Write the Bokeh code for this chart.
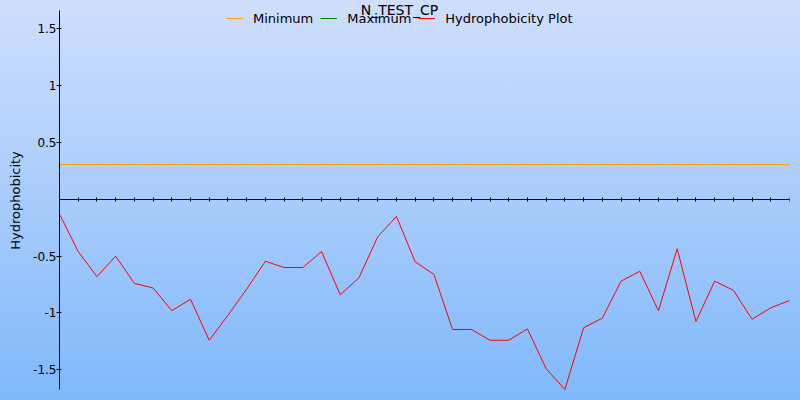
from bokeh.plotting import figure
from bokeh.models import (Range1d, FixedTicker, SingleIntervalTicker, Label, Legend,
                          LegendItem, GlobalInlineStyleSheet, CustomJSTickFormatter)
from bokeh.embed import file_html
from bokeh.resources import INLINE

TITLE = "N_TEST_CP"
Y_LABEL = "Hydrophobicity"
POSITIONS = [0, 1, 2, 3, 4, 5, 6, 7, 8, 9, 10, 11, 12, 13, 14, 15, 16, 17, 18, 19,
             20, 21, 22, 23, 24, 25, 26, 27, 28, 29, 30, 31, 32, 33, 34, 35, 36, 37, 38, 39]
HYDROPHOBICITY = [-0.13, -0.46, -0.68, -0.50, -0.74, -0.78, -0.98, -0.88, -1.24, -1.02,
                  -0.79, -0.545, -0.60, -0.60, -0.46, -0.84, -0.69, -0.33, -0.15, -0.55,
                  -0.66, -1.145, -1.145, -1.24, -1.24, -1.14, -1.49, -1.673, -1.13, -1.046,
                  -0.72, -0.633, -0.98, -0.435, -1.075, -0.72, -0.80, -1.055, -0.955, -0.89]
MINIMUM = 0.306
MAXIMUM = 0.306
Y_MIN, Y_MAX = -1.673, 1.661          # extent of the y axis
Y_TICKS = [-1.5, -1.0, -0.5, 0.5, 1.0, 1.5]
Y_TICK_LABELS = ["-1.5", "-1", "-0.5", "0.5", "1", "1.5"]

FONT = "DejaVu Sans"

# frame covers the full canvas height so the title is not clipped; the y axis
# line itself is limited to [Y_MIN, Y_MAX] with axis bounds
p = figure(width=800, height=400, output_backend="svg", toolbar_location=None, title=None,
           x_range=Range1d(0, 39), y_range=Range1d(-1.770, 1.749),
           min_border_left=59, min_border_right=11, min_border_top=0, min_border_bottom=0,
           background_fill_color=None, border_fill_color=None, outline_line_color=None)

p.stylesheets = [GlobalInlineStyleSheet(css=
    "html { min-height: 100%; background: linear-gradient(to bottom, #cfdefc 0%, #a8ccfc 50%, #7fb8fa 100%); }"
    " body { background: transparent; }")]

p.grid.visible = False

# x axis crossing at y = 0
xa = p.xaxis[0]
xa.fixed_location = 0
xa.ticker = SingleIntervalTicker(interval=1, num_minor_ticks=0)
xa.formatter = CustomJSTickFormatter(code="return ''")
xa.major_label_text_font_size = "0px"
xa.major_tick_in = 2
xa.major_tick_out = 2
xa.minor_tick_line_color = None
xa.axis_line_color = "black"
xa.major_tick_line_color = "black"

ya = p.yaxis[0]
ya.bounds = (Y_MIN, Y_MAX)
ya.ticker = FixedTicker(ticks=Y_TICKS)
ya.major_label_overrides = {t: s for t, s in zip(Y_TICKS, Y_TICK_LABELS)}
ya.major_label_standoff = 0
ya.major_tick_out = 3
ya.major_tick_in = 2
ya.minor_tick_line_color = None
ya.axis_line_color = "black"
ya.major_tick_line_color = "black"
ya.major_label_text_font = FONT
ya.major_label_text_font_size = "12px"
ya.major_label_text_color = "black"
ya.axis_label = Y_LABEL
ya.axis_label_text_font = FONT
ya.axis_label_text_font_size = "13px"
ya.axis_label_text_font_style = "normal"
ya.axis_label_text_color = "black"
ya.axis_label_standoff = 7

r_max = p.line(POSITIONS, [MAXIMUM] * len(POSITIONS), line_color="#008000", line_width=1)
r_min = p.line(POSITIONS, [MINIMUM] * len(POSITIONS), line_color="#ffa500", line_width=1)
r_h = p.line(POSITIONS, HYDROPHOBICITY, line_color="#ff0000", line_width=1)

legend = Legend(items=[LegendItem(label="Minimum", renderers=[r_min]),
                       LegendItem(label="Maximum", renderers=[r_max]),
                       LegendItem(label="Hydrophobicity Plot", renderers=[r_h])],
                location=(167, 374), orientation="horizontal",
                padding=0, margin=0, spacing=7, label_standoff=10,
                glyph_width=17, glyph_height=16, label_height=16,
                border_line_color=None, background_fill_alpha=0,
                label_text_font=FONT, label_text_font_size="13px", label_text_color="black")
p.add_layout(legend)

title = Label(x=340, y=390.5, x_units="screen", y_units="screen", text=TITLE,
              text_align="center", text_baseline="alphabetic",
              text_font=FONT, text_font_size="14px", text_color="black")
p.add_layout(title)

open("out.html", "w").write(file_html(p, INLINE))
